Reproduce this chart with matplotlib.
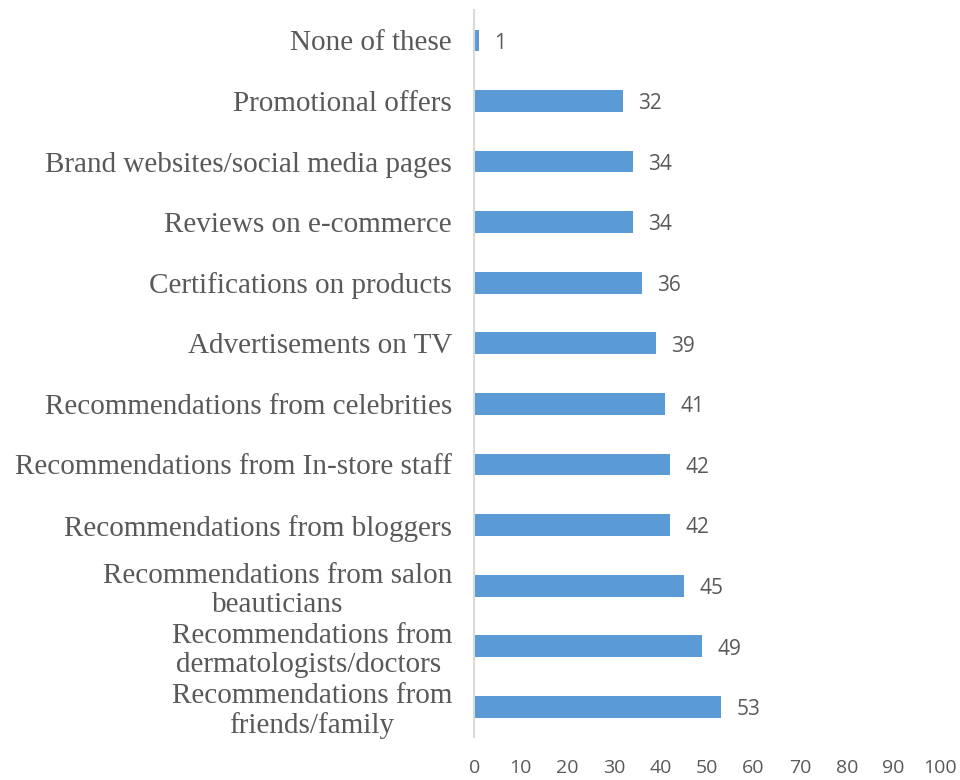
import matplotlib.pyplot as plt

CATEGORIES = [
    "Recommendations from\nfriends/family",
    "Recommendations from\ndermatologists/doctors ",
    "Recommendations from salon\nbeauticians",
    "Recommendations from bloggers",
    "Recommendations from In-store staff",
    "Recommendations from celebrities",
    "Advertisements on TV",
    "Certifications on products",
    "Reviews on e-commerce",
    "Brand websites/social media pages",
    "Promotional offers",
    "None of these",
]
VALUES = [53, 49, 45, 42, 42, 41, 39, 36, 34, 34, 32, 1]
XTICKS = list(range(0, 101, 10))

BAR_COLOR = "#5B9BD5"
TEXT_COLOR = "#595959"
AXIS_COLOR = "#D9D9D9"

fig = plt.figure(figsize=(9.6, 7.8), dpi=100)
ax = fig.add_axes([0.494, 0.055, 0.485, 0.932])

pos = list(range(len(CATEGORIES)))
ax.barh(pos, VALUES, height=0.36, color=BAR_COLOR)

# value labels to the right of each bar
for y, v in zip(pos, VALUES):
    ax.annotate(str(v), (v, y), xytext=(11, -2), textcoords="offset points",
                va="center", ha="left", fontsize=15, color=TEXT_COLOR,
                family="Open Sans")

ax.set_xlim(0, 100)
ax.set_ylim(-0.5, len(CATEGORIES) - 0.5)
ax.set_xticks(XTICKS)
ax.set_xticklabels([str(t) for t in XTICKS], fontsize=14, color=TEXT_COLOR,
                   family="Open Sans")
ax.set_yticks(pos)
ax.set_yticklabels(CATEGORIES, fontsize=21, color=TEXT_COLOR,
                   family="Liberation Serif", multialignment="center",
                   linespacing=1.15)
ax.tick_params(axis="both", length=0)
ax.tick_params(axis="y", pad=16)
ax.tick_params(axis="x", pad=16)

for side in ["top", "right", "bottom"]:
    ax.spines[side].set_visible(False)
ax.spines["left"].set_color(AXIS_COLOR)
ax.spines["left"].set_linewidth(1.5)

fig.savefig("out.png", dpi=100)
